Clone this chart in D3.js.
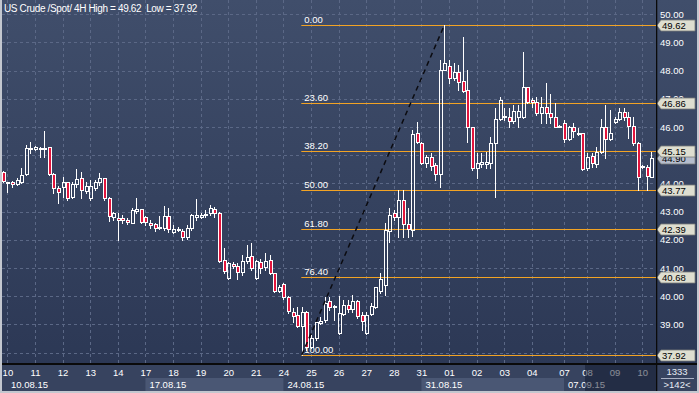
<!DOCTYPE html>
<html>
<head>
<meta charset="utf-8">
<script src="https://cdn.jsdelivr.net/npm/d3@7"></script>
<style>
  body { margin: 0; background: #2d3956; }
  svg { display: block; font-family: "Liberation Sans", Arial, sans-serif; }
</style>
</head>
<body>
<div id="chart"></div>
<script>
// chart data (4H bars)
var title = "US Crude /Spot/ 4H High = 49.62  Low = 37.92";

var opens = [44.41,44.03,44.05,43.98,44.05,44.34,45.21,45.22,45.26,45.22,
  45.29,44.34,43.84,43.88,44.05,43.52,43.98,44.19,43.73,43.49,
  43.84,44.05,44.19,43.49,42.81,42.78,42.78,42.71,42.60,43.02,
  43.09,42.81,42.60,42.56,42.42,42.42,42.85,42.28,42.39,42.32,
  42.10,42.42,42.81,42.81,42.88,42.95,43.09,42.95,41.29,40.65,
  41.15,41.07,40.86,41.25,41.43,40.65,41.22,41.04,41.29,40.83,
  40.19,40.44,39.97,39.44,39.34,38.95,39.44,38.20,38.52,39.05,
  39.16,39.83,39.65,38.70,39.37,39.69,39.55,39.83,39.34,38.70,
  39.37,39.62,40.19,40.40,42.32,42.95,42.81,43.41,42.56,42.35,
  45.79,45.44,44.73,44.94,44.66,44.34,48.02,48.17,47.74,47.95,
  47.63,47.32,46.00,44.55,44.69,44.69,44.73,45.44,46.29,46.39,
  46.36,46.22,46.36,46.36,47.42,46.96,46.89,46.50,46.71,46.50,
  46.36,46.04,46.15,45.58,46.00,45.79,45.79,44.55,44.97,44.69,
  45.12,46.00,45.58,46.18,46.29,46.54,46.36,46.04,45.44,44.58,
  44.58,44.23];

var highs = [44.45,44.06,44.09,44.19,44.55,45.36,45.47,45.33,45.29,45.86,
  45.30,44.37,43.91,44.23,44.05,44.05,44.51,44.41,44.05,44.12,
  44.12,44.37,44.19,43.52,42.99,42.95,42.88,42.78,43.13,43.49,
  43.09,42.85,42.71,42.60,42.85,43.20,43.13,42.53,42.46,42.39,
  42.53,42.92,43.45,42.95,43.06,43.24,43.17,42.99,41.71,41.22,
  41.22,41.18,41.47,41.82,41.89,41.29,41.32,41.54,41.47,40.83,
  40.40,40.47,40.01,39.58,39.62,39.62,39.48,38.63,39.16,39.27,
  39.97,39.97,39.69,40.01,39.87,39.87,40.05,39.87,39.44,39.44,
  39.76,40.33,40.83,42.60,43.13,43.06,43.77,43.77,43.13,45.90,
  46.18,45.47,45.01,45.08,44.73,48.38,49.62,48.38,48.27,48.20,
  49.19,48.02,46.00,45.08,45.08,45.12,45.65,46.68,47.07,46.68,
  46.68,46.78,46.78,48.66,47.42,47.03,47.07,47.07,47.56,47.17,
  46.86,46.06,46.25,46.04,46.15,45.97,45.79,45.08,45.08,45.29,
  46.29,46.78,46.61,46.36,46.68,46.68,46.54,46.36,45.47,44.66,
  44.66,45.12];

var lows = [44.05,43.70,43.87,43.95,44.02,44.30,45.08,45.19,44.94,44.94,
  44.30,43.66,43.31,43.52,43.41,43.49,43.88,43.49,43.66,43.41,
  43.77,43.95,43.41,42.67,42.71,42.00,42.60,42.56,42.60,42.95,
  42.60,42.53,42.42,42.32,42.39,42.35,42.28,42.25,42.32,42.00,
  42.03,42.35,42.71,42.78,42.81,42.88,42.81,41.22,40.83,40.61,
  41.00,40.61,40.76,41.18,40.93,40.61,40.83,40.93,40.79,40.15,
  40.15,39.90,39.41,39.09,38.91,37.92,38.09,38.17,38.45,39.02,
  39.09,39.51,39.16,38.66,39.34,39.44,39.44,39.23,38.81,38.66,
  39.34,39.58,40.12,40.05,41.92,42.71,42.10,42.10,42.10,42.14,
  45.44,44.69,44.58,44.48,44.12,43.88,48.02,47.56,47.67,47.32,
  47.24,45.47,44.48,44.19,44.58,44.55,44.55,43.52,46.25,46.25,
  46.00,46.15,46.00,46.32,46.86,46.71,46.43,46.15,46.15,46.15,
  46.00,46.00,45.47,45.54,45.65,45.72,44.48,44.48,44.58,44.58,
  45.08,44.90,45.54,46.15,46.25,46.25,45.61,45.37,43.77,44.55,
  43.77,44.23];

var closes = [44.09,44.05,43.98,44.12,44.30,45.26,45.27,45.29,45.22,45.26,
  44.34,43.84,43.70,44.05,43.49,43.98,44.16,43.77,43.91,43.91,
  44.05,44.19,43.49,42.85,42.95,42.71,42.71,42.63,43.06,43.09,
  42.63,42.63,42.53,42.42,42.46,42.85,42.39,42.39,42.35,42.10,
  42.42,42.88,42.88,42.88,42.92,43.13,42.95,41.25,40.90,41.18,
  41.07,40.86,41.25,41.39,41.00,41.25,41.00,41.25,40.83,40.19,
  40.33,39.97,39.48,39.30,38.95,39.44,38.20,38.52,39.09,39.12,
  39.76,39.62,39.62,39.41,39.69,39.55,39.83,39.30,39.12,39.34,
  39.65,40.33,40.61,42.35,42.88,42.81,43.41,42.56,42.39,45.75,
  45.47,44.73,44.94,44.62,44.34,48.02,48.27,47.74,47.95,47.60,
  47.28,46.00,44.55,44.73,44.76,44.76,45.44,46.29,46.96,46.36,
  46.22,46.57,46.57,47.42,46.89,46.89,46.50,46.71,46.50,46.36,
  46.00,46.02,45.58,46.00,45.86,45.76,44.51,44.94,44.73,45.12,
  46.00,45.58,45.79,46.29,46.54,46.36,46.04,45.44,44.23,44.62,
  44.27,44.90];

var dayLabels = ["10","11","12","13","14","17","18","19","20","21","24","25",
  "26","27","28","31","01","02","03","04","07","08","09","10"];
var dayStarts = [1,7,13,19,25,31,37,43,49,55,61,67,73,79,85,91,97,103,109,115,122,127,133,139];
var weekLabels = ["10.08.15","17.08.15","24.08.15","31.08.15","07.09.15"];
var weekStarts = [1,31,61,91,122];
var priceTicks = [38,39,40,41,42,43,44,45,46,47,48,49,50];
var fibRatios = [0, 23.6, 38.2, 50, 61.8, 76.4, 100];
var swingHigh = 49.62, swingLow = 37.92, highBar = 96, lowBar = 65;
var lastPrice = 44.90;
var totalBars = 1333, shownBars = 142;
var dimFrom = 127; // first bar under the dark overlay on the time axis

var W = 699, H = 393,
    plotL = 2, plotR = 656, plotB = 364;

var bars = opens.map(function(o, i) {
  return {i: i, o: o, h: highs[i], l: lows[i], c: closes[i]};
});

var svg = d3.select("#chart").append("svg")
  .attr("width", W)
  .attr("height", H);

var defs = svg.append("defs");
var grad = defs.append("linearGradient")
  .attr("id", "bg").attr("x1", 0).attr("y1", 0).attr("x2", 0).attr("y2", 1);
grad.append("stop").attr("offset", "0%").attr("stop-color", "#404e6b");
grad.append("stop").attr("offset", "100%").attr("stop-color", "#2c3855");

defs.append("clipPath").attr("id", "clip")
  .append("rect")
    .attr("x", plotL).attr("y", 0)
    .attr("width", plotR - plotL).attr("height", plotB);

// scales
var x = d3.scaleLinear().domain([0, shownBars - 1]).range([2.8, 2.8 + 4.6 * (shownBars - 1)]);
var y = d3.scaleLinear().domain([50, 37.92]).range([14.3, 354.9]);

// backgrounds
svg.append("rect").attr("width", W).attr("height", plotB).attr("fill", "url(#bg)");
svg.append("rect").attr("y", plotB).attr("width", W).attr("height", H - plotB).attr("fill", "#37435f");

// week bands on the time axis
weekStarts.forEach(function(s, k) {
  var x0 = x(s), x1 = k < weekStarts.length - 1 ? x(weekStarts[k + 1]) : plotR;
  if (k % 2 == 1) {
    svg.append("rect")
      .attr("x", x0).attr("y", 378)
      .attr("width", x1 - x0).attr("height", 13)
      .attr("fill", "#4a5774");
  }
});

var plot = svg.append("g").attr("clip-path", "url(#clip)");

// dashed grid
var grid = plot.append("g")
  .attr("stroke", "#5b6886")
  .attr("stroke-dasharray", "3,3")
  .attr("stroke-width", 1);
grid.selectAll("line.h").data(priceTicks).enter().append("line")
  .attr("x1", plotL).attr("x2", plotR)
  .attr("y1", function(d) { return Math.round(y(d)) + 0.5; })
  .attr("y2", function(d) { return Math.round(y(d)) + 0.5; });
grid.selectAll("line.v").data(dayStarts).enter().append("line")
  .attr("y1", 0).attr("y2", plotB)
  .attr("x1", function(d) { return Math.round(x(d)) + 0.5; })
  .attr("x2", function(d) { return Math.round(x(d)) + 0.5; });

// fibonacci levels
var fibs = fibRatios.map(function(r) {
  return {r: r, v: +(swingHigh - (swingHigh - swingLow) * r / 100).toFixed(2)};
});
var fibX = x(lowBar) - 0.5;
plot.selectAll("line.fib").data(fibs).enter().append("line")
  .attr("x1", fibX).attr("x2", plotR)
  .attr("y1", function(d) { return Math.round(y(d.v)) + 0.5; })
  .attr("y2", function(d) { return Math.round(y(d.v)) + 0.5; })
  .attr("stroke", "#f2a324")
  .attr("stroke-width", 1);
plot.selectAll("text.fib").data(fibs).enter().append("text")
  .attr("x", fibX + 3)
  .attr("y", function(d) { return Math.round(y(d.v)) - 2; })
  .attr("fill", "#ffffff")
  .attr("font-size", "9.5px")
  .text(function(d) { return d.r.toFixed(2); });

// candles
function px(v) { return Math.round(y(v)); }
var candle = plot.selectAll("g.candle").data(bars).enter().append("g");
candle.append("line")
  .attr("x1", function(d) { return Math.round(x(d.i)) + 0.5; })
  .attr("x2", function(d) { return Math.round(x(d.i)) + 0.5; })
  .attr("y1", function(d) { return px(d.h); })
  .attr("y2", function(d) { return px(Math.max(d.o, d.c)); })
  .attr("stroke", "#fff");
candle.append("line")
  .attr("x1", function(d) { return Math.round(x(d.i)) + 0.5; })
  .attr("x2", function(d) { return Math.round(x(d.i)) + 0.5; })
  .attr("y1", function(d) { return px(Math.min(d.o, d.c)); })
  .attr("y2", function(d) { return px(d.l) + 1; })
  .attr("stroke", "#fff");
candle.append("rect")
  .attr("x", function(d) { return Math.round(x(d.i)) - 0.5; })
  .attr("y", function(d) { return px(Math.max(d.o, d.c)) + 0.5; })
  .attr("width", 3)
  .attr("height", function(d) { return Math.max(px(Math.min(d.o, d.c)) - px(Math.max(d.o, d.c)), 1); })
  .attr("fill", function(d) { return d.c < d.o ? "#e2153d" : "none"; })
  .attr("stroke", "#fff")
  .attr("stroke-width", 1);

// swing line from low to high
plot.append("line")
  .attr("x1", x(lowBar)).attr("y1", y(swingLow))
  .attr("x2", x(highBar)).attr("y2", y(swingHigh))
  .attr("stroke", "#0b0b10")
  .attr("stroke-width", 1.5)
  .attr("stroke-dasharray", "5,4");

// title
svg.append("text")
  .attr("x", 4).attr("y", 12)
  .attr("fill", "#fff")
  .attr("font-size", "10px")
  .attr("letter-spacing", "-0.35px")
  .style("white-space", "pre")
  .text(title);

// right price axis
var yAxis = svg.append("g")
  .attr("transform", "translate(" + plotR + ",0)")
  .call(d3.axisRight(y).tickValues(priceTicks).tickSize(0).tickPadding(4).tickFormat(d3.format(".2f")));
yAxis.select(".domain").remove();
yAxis.selectAll("text")
  .attr("fill", "#fff")
  .attr("font-size", "9.5px")
  .attr("font-family", "Liberation Sans, Arial, sans-serif");

function priceBox(v, fill) {
  var yy = Math.round(y(v)) + 0.5;
  svg.append("path")
    .attr("d", "M" + (plotR + 1) + "," + yy + "L" + (plotR + 5) + "," + (yy - 5.5) +
      "L695," + (yy - 5.5) + "L695," + (yy + 5.5) + "L" + (plotR + 5) + "," + (yy + 5.5) + "Z")
    .attr("fill", fill)
    .attr("stroke", "#7a7c78")
    .attr("stroke-width", 0.8);
  svg.append("text")
    .attr("x", plotR + 6).attr("y", yy + 3.4)
    .attr("fill", "#000")
    .attr("font-size", "9.5px")
    .text(v.toFixed(2));
}
priceBox(lastPrice, "#b5bdcd");
fibs.forEach(function(f) { priceBox(f.v, "#deded0"); });

// time axis
var xAxis = svg.append("g")
  .attr("transform", "translate(0," + plotB + ")")
  .call(d3.axisBottom(x).tickValues(dayStarts).tickSize(0).tickPadding(5)
    .tickFormat(function(d) { return dayLabels[dayStarts.indexOf(d)]; }));
xAxis.select(".domain").remove();
xAxis.selectAll("text")
  .attr("fill", "#fff")
  .attr("font-size", "9.5px")
  .attr("font-family", "Liberation Sans, Arial, sans-serif");

svg.selectAll("text.week").data(weekLabels).enter().append("text")
  .attr("x", function(d, k) { return (k == 0 ? 7 : x(weekStarts[k])) + 4; })
  .attr("y", 388)
  .attr("fill", "#fff")
  .attr("font-size", "9.5px")
  .text(function(d) { return d; });

// dark overlay on the newest days
svg.append("rect")
  .attr("x", x(dimFrom) - 2).attr("y", plotB + 1)
  .attr("width", plotR - x(dimFrom) + 2).attr("height", H - plotB - 3)
  .attr("fill", "rgba(16,24,44,0.5)");

// bar counter box
svg.append("text")
  .attr("x", 677).attr("y", 375).attr("text-anchor", "middle")
  .attr("fill", "#e8ecf4").attr("font-size", "9.5px")
  .text(totalBars);
svg.append("line")
  .attr("x1", 661).attr("x2", 694).attr("y1", 378.5).attr("y2", 378.5)
  .attr("stroke", "#aab2c4");
svg.append("text")
  .attr("x", 677).attr("y", 388).attr("text-anchor", "middle")
  .attr("fill", "#e8ecf4").attr("font-size", "9.5px")
  .text(">" + shownBars + "<");

// frame lines
svg.append("rect").attr("x", 0).attr("y", plotB - 1).attr("width", W).attr("height", 2).attr("fill", "#0a0a0a");
svg.append("rect").attr("x", plotR).attr("y", 0).attr("width", 1.3).attr("height", H).attr("fill", "#0a0a0a");
svg.append("rect").attr("x", 0).attr("y", 0).attr("width", 2).attr("height", H).attr("fill", "#c3c7cf");
svg.append("rect").attr("x", 0).attr("y", H - 2).attr("width", W).attr("height", 2).attr("fill", "#c3c7cf");
svg.append("rect").attr("x", W - 2).attr("y", 0).attr("width", 2).attr("height", H).attr("fill", "#c3c7cf");
</script>
</body>
</html>
